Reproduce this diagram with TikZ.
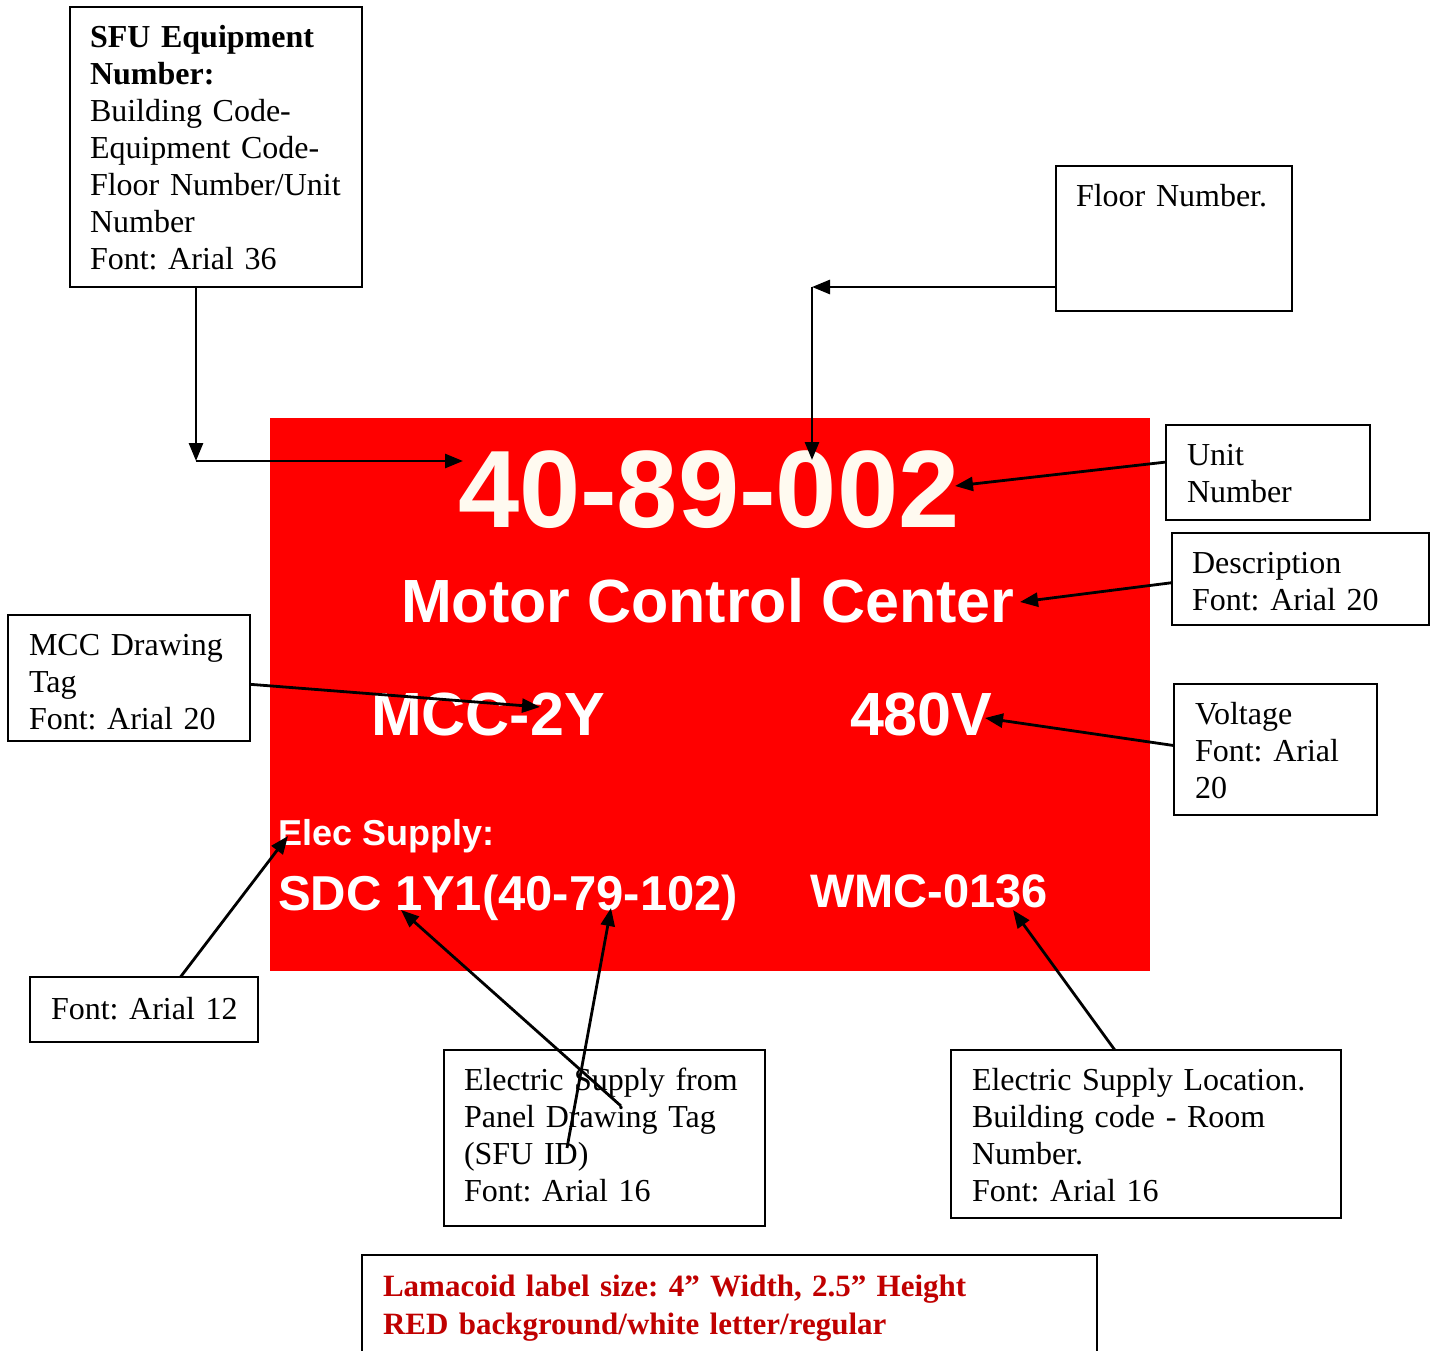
\documentclass[tikz,border=0pt]{standalone}
\usepackage{fontspec}
\setmainfont{Liberation Serif}
\newfontfamily\arialf{Liberation Sans}
\usetikzlibrary{arrows.meta,calc}
\definecolor{labred}{HTML}{FF0000}
\definecolor{ivory}{HTML}{FFFAF0}
\definecolor{darkred}{HTML}{C00000}
\frenchspacing
\begin{document}
\begin{tikzpicture}[x=1pt,y=-1pt,
  box/.style={draw=black, line width=2.4pt, inner sep=0pt, outer sep=0pt, fill=white},
  txt/.style={anchor=base west, inner sep=0pt, outer sep=0pt, text width=420pt, align=left,
    font=\frenchspacing\fontsize{32}{37}\selectfont},
  lab/.style={anchor=base west, inner sep=0pt, outer sep=0pt, text=white, font=\arialf\bfseries},
  arr/.style={draw=black, line width=2.8pt, -{Triangle[length=18pt,width=14pt]}}]
\clip (0,0) rectangle (1436,1351);
\fill[white] (0,0) rectangle (1436,1351);

% red label
\node[fill=labred, inner sep=0pt, outer sep=0pt, minimum width=880pt, minimum height=553pt] (label) at (710,694.5) {};
\node[lab, text=ivory, font=\arialf\bfseries\fontsize{110}{110}\selectfont] (num) at (458,527) {40-89-002};
\node[lab, font=\arialf\bfseries\fontsize{61}{61}\selectfont] (desc) at (401,622) {Motor Control Center};
\node[lab, font=\arialf\bfseries\fontsize{61}{61}\selectfont] (tag) at (371,735) {MCC-2Y};
\node[lab, font=\arialf\bfseries\fontsize{61}{61}\selectfont] (volt) at (850,735) {480V};
\node[lab, font=\arialf\bfseries\fontsize{36}{36}\selectfont] (elec) at (278,845) {Elec Supply:};
\node[lab, font=\arialf\bfseries\fontsize{49}{49}\selectfont] (sdc) at (278,910) {SDC 1Y1(40-79-102)};
\node[lab, font=\arialf\bfseries\fontsize{47}{47}\selectfont] (wmc) at (810,907) {WMC-0136};

% annotation boxes
\node[box, minimum width=292pt, minimum height=280pt] (bsfu) at (216,147) {};
\node[txt] (tsfu) at (90,48) {\textbf{SFU Equipment}\\\textbf{Number:}\\Building Code-\\Equipment Code-\\Floor Number/Unit\\Number\\Font: Arial 36};

\node[box, minimum width=236pt, minimum height=145pt] (bfloor) at (1174,238.5) {};
\node[txt] (tfloor) at (1076,207) {Floor Number.};

\node[box, minimum width=204pt, minimum height=95pt] (bunit) at (1268,472.5) {};
\node[txt] (tunit) at (1187,465) {Unit\\Number};

\node[box, minimum width=257pt, minimum height=92pt] (bdesc) at (1300.5,579) {};
\node[txt] (tdesc) at (1192,573) {Description\\Font: Arial 20};

\node[box, minimum width=242pt, minimum height=126pt] (bmcc) at (129,678) {};
\node[txt] (tmcc) at (29,655) {MCC Drawing\\Tag\\Font: Arial 20};

\node[box, minimum width=203pt, minimum height=131pt] (bvolt) at (1275.5,749.5) {};
\node[txt] (tvolt) at (1195,724) {Voltage\\Font: Arial\\20};

\node[box, minimum width=228pt, minimum height=65pt] (bf12) at (144,1009.5) {};
\node[txt] (tf12) at (51,1019) {Font: Arial 12};

\node[box, minimum width=321pt, minimum height=176pt] (besf) at (604.5,1138) {};
\node[txt] (tesf) at (464,1090) {Electric Supply from\\Panel Drawing Tag\\(SFU ID)\\Font: Arial 16};

\node[box, minimum width=390pt, minimum height=168pt] (besl) at (1146,1134) {};
\node[txt] (tesl) at (972,1090) {Electric Supply Location.\\Building code - Room\\Number.\\Font: Arial 16};

\node[box, minimum width=735pt, minimum height=160pt] (blam) at (729.5,1335) {};
\node[txt, text width=700pt, text=darkred, font=\frenchspacing\bfseries\fontsize{31}{38}\selectfont] (tlam) at (383,1296) {Lamacoid label size: 4” Width, 2.5” Height\\RED background/white letter/regular};

% connector points
\coordinate (c1) at (196,461);
\coordinate (a1) at (463,461);
\coordinate (c2) at (812,287);
\coordinate (a2) at (812,460);
\coordinate (a3) at (955,486);
\coordinate (a4) at (1020,602);
\coordinate (a5) at (540,707);
\coordinate (a6) at (985,718);
\coordinate (a7) at (288,836);
\coordinate (s8) at (621,1106);
\coordinate (a8) at (401,910);
\coordinate (s9) at (567,1148);
\coordinate (a9) at (611,908);
\coordinate (a10) at (1013,910);

% connectors
\draw[arr] (bsfu.south -| c1) -- (c1);
\draw[arr] (c1) -- (a1);
\draw[arr] (bfloor.west |- c2) -- (c2);
\draw[arr] (c2) -- (a2);
\draw[arr] ($(bunit.north west)!0.39!(bunit.south west)$) -- (a3);
\draw[arr] ($(bdesc.north west)!0.54!(bdesc.south west)$) -- (a4);
\draw[arr] ($(bmcc.north east)!0.55!(bmcc.south east)$) -- (a5);
\draw[arr] ($(bvolt.north west)!0.47!(bvolt.south west)$) -- (a6);
\draw[arr] ($(bf12.north west)!0.66!(bf12.north east)$) -- (a7);
\draw[arr] (s8) -- (a8);
\draw[arr] (s9) -- (a9);
\draw[arr] ($(besl.north west)!0.42!(besl.north east)$) -- (a10);
\end{tikzpicture}
\end{document}
